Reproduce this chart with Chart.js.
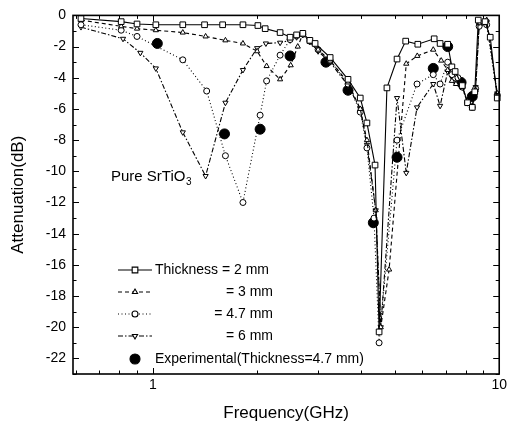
<!DOCTYPE html>
<html>
<head>
<meta charset="utf-8">
<script src="https://cdn.jsdelivr.net/npm/chart.js@4"></script>
<style>
  html, body { margin: 0; padding: 0; background: #fff; }
  #wrap { width: 510px; height: 430px; }
</style>
</head>
<body>
<div id="wrap"><canvas id="myChart" width="510" height="430"></canvas></div>
<script>
// thickness = 2 mm
const freq2 = [0.62, 0.81, 0.9, 1.02, 1.22, 1.41, 1.59, 1.82, 2.01, 2.11, 2.33, 2.49, 2.6, 2.71, 2.84, 2.94, 3.25, 3.66, 3.97, 4.15, 4.38, 4.5, 4.74, 5.07, 5.37, 5.82, 6.49, 6.75, 7.1, 7.3, 7.46, 7.82, 8.1, 8.36, 8.5, 8.7, 9.1, 9.42, 9.87];
const att2 = [-0.2, -0.4, -0.55, -0.6, -0.6, -0.6, -0.6, -0.6, -0.65, -0.85, -1.1, -1.4, -1.25, -1.15, -1.6, -1.8, -2.7, -4.1, -5.3, -6.9, -9.6, -20.3, -4.65, -2.8, -1.65, -1.85, -1.5, -1.8, -1.85, -3.3, -3.6, -4.5, -5.6, -5.9, -4.9, -0.3, -0.4, -1.4, -5.3];
// thickness = 3 mm
const freq3 = [0.62, 0.81, 0.9, 1.02, 1.22, 1.42, 1.62, 1.82, 2.0, 2.13, 2.33, 2.5, 2.62, 2.71, 2.84, 3.0, 3.25, 3.66, 3.97, 4.15, 4.4, 4.55, 4.81, 5.39, 5.8, 6.45, 6.8, 7.1, 7.3, 7.5, 7.82, 8.1, 8.36, 8.55, 8.75, 9.2, 9.87];
const att3 = [-0.3, -0.7, -0.85, -0.95, -1.1, -1.35, -1.6, -1.8, -2.3, -3.25, -4.1, -3.2, -2.0, -1.2, -1.7, -2.2, -2.9, -4.3, -6.0, -8.0, -12.5, -20.0, -16.3, -3.1, -2.6, -2.2, -2.9, -3.5, -4.2, -4.4, -4.6, -5.5, -5.8, -4.8, -0.5, -0.3, -5.0];
// thickness = 4.7 mm
const freq47 = [0.62, 0.81, 0.9, 1.22, 1.43, 1.62, 1.82, 2.04, 2.13, 2.33, 2.49, 2.6, 2.71, 2.84, 3.0, 3.25, 3.66, 3.97, 4.15, 4.35, 4.5, 5.07, 5.79, 6.45, 6.75, 7.1, 7.3, 7.6, 7.82, 8.1, 8.36, 8.55, 8.75, 9.2, 9.87];
const att47 = [-0.6, -0.95, -1.35, -2.85, -4.85, -9.0, -12.0, -6.4, -4.2, -2.55, -1.55, -1.3, -1.2, -1.65, -2.2, -2.9, -4.4, -6.2, -8.5, -13.0, -21.0, -8.0, -4.4, -3.8, -4.4, -3.0, -3.8, -4.0, -4.6, -5.6, -5.9, -4.7, -0.7, -0.6, -5.1];
// thickness = 6 mm
const freq6 = [0.62, 0.82, 0.92, 1.02, 1.22, 1.42, 1.62, 1.82, 2.0, 2.12, 2.33, 2.49, 2.6, 2.71, 2.84, 3.0, 3.25, 3.66, 3.97, 4.15, 4.4, 4.55, 5.07, 5.39, 5.79, 6.45, 6.75, 7.1, 7.46, 7.82, 8.1, 8.36, 8.55, 8.75, 9.2, 9.87];
const att6 = [-0.75, -1.5, -2.4, -3.4, -7.5, -10.3, -5.6, -3.5, -2.1, -1.8, -1.75, -1.6, -1.4, -1.25, -1.7, -2.3, -3.0, -4.5, -6.0, -8.3, -12.5, -20.0, -5.3, -10.1, -5.9, -4.4, -5.8, -3.6, -4.3, -4.6, -5.6, -5.8, -4.6, -0.6, -0.4, -5.0];
// experimental, thickness = 4.7 mm
const freqExp = [1.03, 1.61, 2.04, 2.49, 3.16, 3.66, 4.33, 5.07, 6.45, 7.1, 7.76, 8.36];
const attExp = [-1.8, -7.6, -7.3, -2.6, -3.0, -4.8, -13.3, -9.1, -3.4, -2.0, -4.3, -5.2];

const legendLabels = ["Thickness = 2 mm", "= 3 mm", "= 4.7 mm", "= 6 mm", "Experimental(Thickness=4.7 mm)"];
const xMajorTicks = [1, 10];
const xMinorTicks = [0.6, 0.7, 0.8, 0.9, 2, 3, 4, 5, 6, 7, 8, 9];
const yMajorTicks = [0, -2, -4, -6, -8, -10, -12, -14, -16, -18, -20, -22];
const yMinorTicks = [-1, -3, -5, -7, -9, -11, -13, -15, -17, -19, -21, -23];

const toPoints = (xs, ys) => xs.map((x, i) => ({ x: x, y: ys[i] }));

const FONT = "Liberation Sans, Arial, sans-serif";

const decor = {
  id: "decor",
  afterDraw(chart) {
    const ctx = chart.ctx;
    const a = chart.chartArea;
    const x = chart.scales.x;
    const y = chart.scales.y;
    ctx.save();
    ctx.strokeStyle = "#000";
    ctx.lineWidth = 1;
    ctx.beginPath();
    xMajorTicks.concat(xMinorTicks).forEach((v) => {
      const len = xMajorTicks.includes(v) ? 6 : 3.5;
      const px = Math.round(x.getPixelForValue(v)) + 0.5;
      ctx.moveTo(px, a.bottom); ctx.lineTo(px, a.bottom - len);
      ctx.moveTo(px, a.top); ctx.lineTo(px, a.top + len);
    });
    yMajorTicks.concat(yMinorTicks).forEach((v) => {
      const len = yMajorTicks.includes(v) ? 6 : 3.5;
      const py = Math.round(y.getPixelForValue(v)) + 0.5;
      ctx.moveTo(a.left, py); ctx.lineTo(a.left + len, py);
      ctx.moveTo(a.right, py); ctx.lineTo(a.right - len, py);
    });
    ctx.stroke();
    ctx.lineWidth = 1.6;
    ctx.strokeRect(a.left, a.top, a.right - a.left, a.bottom - a.top);

    // legend
    const rowY = [270, 292, 314, 336, 359];
    chart.data.datasets.forEach((ds, i) => {
      const ry = rowY[i];
      if (ds.showLine !== false) {
        ctx.setLineDash(ds.borderDash || []);
        ctx.lineWidth = ds.borderWidth;
        ctx.beginPath();
        ctx.moveTo(118, ry); ctx.lineTo(152, ry);
        ctx.stroke();
        ctx.setLineDash([]);
      }
      ctx.fillStyle = ds.pointBackgroundColor;
      ctx.strokeStyle = "#000";
      Chart.helpers.drawPoint(ctx, {
        pointStyle: ds.pointStyle,
        radius: ds.pointRadius,
        rotation: ds.pointRotation || 0,
        borderWidth: ds.pointBorderWidth
      }, 135, ry);
      ctx.fillStyle = "#000";
      ctx.font = "14px " + FONT;
      ctx.textBaseline = "middle";
      if (i === 0 || i === 4) {
        ctx.textAlign = "left";
        ctx.fillText(legendLabels[i], 155, ry);
      } else {
        ctx.textAlign = "right";
        ctx.fillText(legendLabels[i], 273, ry);
      }
    });

    // annotation
    ctx.font = "15px " + FONT;
    ctx.textAlign = "left";
    ctx.textBaseline = "middle";
    const main = "Pure SrTiO";
    ctx.fillText(main, 111, 177);
    const w = ctx.measureText(main).width;
    ctx.font = "10px " + FONT;
    ctx.fillText("3", 111 + w + 0.5, 182);
    ctx.restore();
  }
};

function lineSet(label, xs, ys, style, dash, rot) {
  return {
    label: label,
    data: toPoints(xs, ys),
    borderColor: "#000",
    borderWidth: 1.1,
    borderDash: dash,
    pointStyle: style,
    pointRotation: rot || 0,
    pointRadius: style === "rect" ? 4 : 3,
    pointBorderWidth: 1,
    pointBackgroundColor: "#fff",
    pointBorderColor: "#000",
    tension: 0,
    clip: false
  };
}

const ctx = document.getElementById("myChart").getContext("2d");
const chart = new Chart(ctx, {
  type: "line",
  data: {
    datasets: [
      lineSet("Thickness = 2 mm", freq2, att2, "rect", []),
      lineSet("= 3 mm", freq3, att3, "triangle", [4, 3]),
      lineSet("= 4.7 mm", freq47, att47, "circle", [1, 2.5]),
      lineSet("= 6 mm", freq6, att6, "triangle", [5, 2, 1.5, 2], 180),
      {
        label: "Experimental(Thickness=4.7 mm)",
        data: toPoints(freqExp, attExp),
        showLine: false,
        borderColor: "#000",
        borderWidth: 1,
        pointStyle: "circle",
        pointRadius: 5,
        pointBorderWidth: 1,
        pointBackgroundColor: "#000",
        pointBorderColor: "#000",
        clip: false
      }
    ]
  },
  options: {
    responsive: false,
    animation: false,
    layout: { padding: { top: 14, right: 10, left: 0, bottom: 0 } },
    plugins: { legend: { display: false }, tooltip: { enabled: false } },
    scales: {
      x: {
        type: "logarithmic",
        min: 0.588,
        max: 10,
        grid: { display: false, drawTicks: false },
        border: { display: false },
        afterBuildTicks: (s) => { s.ticks = xMajorTicks.map((v) => ({ value: v })); },
        afterFit: (s) => { s.height = 56; },
        ticks: {
          autoSkip: false,
          maxRotation: 0,
          padding: 3,
          color: "#000",
          font: { family: FONT, size: 14 },
          callback: (v) => String(v)
        },
        title: {
          display: true,
          text: "Frequency(GHz)",
          color: "#000",
          font: { family: FONT, size: 17 },
          padding: { top: 0, bottom: 6 }
        }
      },
      y: {
        min: -23,
        max: 0,
        grid: { display: false, drawTicks: false },
        border: { display: false },
        afterBuildTicks: (s) => { s.ticks = yMajorTicks.map((v) => ({ value: v })); },
        afterFit: (s) => { s.width = 73; },
        ticks: {
          padding: 7,
          color: "#000",
          font: { family: FONT, size: 14 }
        },
        title: {
          display: true,
          text: "Attenuation(dB)",
          color: "#000",
          font: { family: FONT, size: 17 },
          padding: { top: 8, bottom: 0 }
        }
      }
    }
  },
  plugins: [decor]
});
</script>
</body>
</html>
